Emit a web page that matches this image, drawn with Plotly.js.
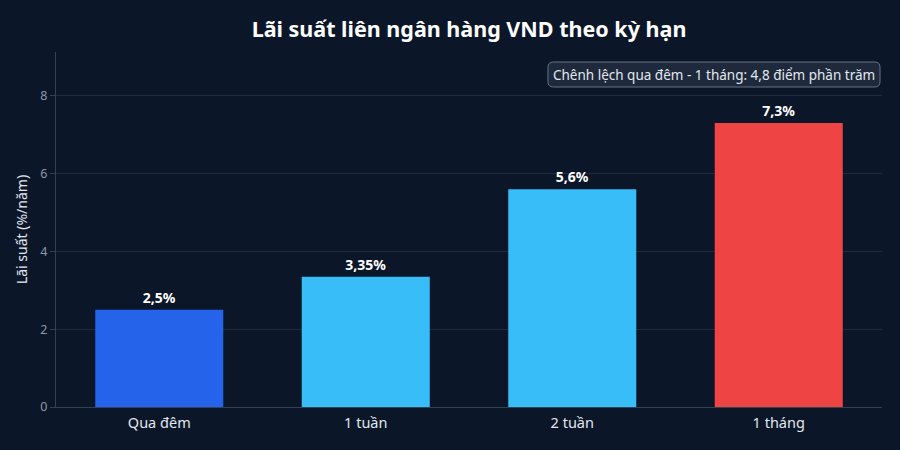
<!DOCTYPE html>
<html><head><meta charset="utf-8">
<script src="https://cdn.plot.ly/plotly-3.0.1.min.js"></script>
<style>html,body{margin:0;padding:0;background:#0b1628;}#c{width:900px;height:450px;}</style>
</head><body><div id="c"></div>
<script>
const categories = ["Qua đêm", "1 tuần", "2 tuần", "1 tháng"];
const rates = [2.5, 3.35, 5.6, 7.3];
const labels = ["2,5%", "3,35%", "5,6%", "7,3%"];
const colors = ["#2563eb", "#38bdf8", "#38bdf8", "#ef4444"];
const yTicks = [0, 2, 4, 6, 8];
const note = "Chênh lệch qua đêm - 1 tháng: 4,8 điểm phần trăm";

// rounded box (paper coords) for the note
const bx0 = 0.5956, bx1 = 0.9976, by0 = 0.9014, by1 = 0.9718, rx = 0.0065, ry = 0.015;
const boxPath = `M ${bx0+rx},${by1} L ${bx1-rx},${by1} Q ${bx1},${by1} ${bx1},${by1-ry} L ${bx1},${by0+ry} Q ${bx1},${by0} ${bx1-rx},${by0} L ${bx0+rx},${by0} Q ${bx0},${by0} ${bx0},${by0+ry} L ${bx0},${by1-ry} Q ${bx0},${by1} ${bx0+rx},${by1} Z`;

Plotly.newPlot("c", [{
  type: "bar", x: categories, y: rates, text: labels, textposition: "outside",
  textfont: {family: "Noto Sans", size: 14, color: "#ffffff", weight: "bold"},
  marker: {color: colors}, width: 0.62, cliponaxis: false, hoverinfo: "none"
}], {
  width: 900, height: 450,
  paper_bgcolor: "#0b1628", plot_bgcolor: "#0b1628",
  font: {family: "Noto Sans", color: "#cbd5e1"},
  margin: {l: 56, r: 18, t: 52, b: 43},
  title: {text: "<b>Lãi suất liên ngân hàng VND theo kỳ hạn</b>", xref: "paper", x: 0.5, y: 0.935, yanchor: "middle",
    font: {family: "Noto Sans", size: 21.5, color: "#ffffff"}},
  xaxis: {showline: true, linecolor: "#334155", ticks: "outside", ticklen: 3, tickcolor: "rgba(0,0,0,0)",
    tickfont: {size: 14.5, color: "#e2e8f0"}, showgrid: false},
  yaxis: {range: [0, 9.125], tickvals: yTicks, ticktext: yTicks.map(String), showline: true, linecolor: "#334155",
    ticks: "outside", ticklen: 5, tickcolor: "#334155", gridcolor: "#1e2b3e", zeroline: false,
    tickfont: {size: 12.5, color: "#8b98ab"},
    title: {text: "Lãi suất (%/năm)", font: {size: 14, color: "#e2e8f0"}, standoff: 9}},
  shapes: [{type: "path", xref: "paper", yref: "paper", path: boxPath, fillcolor: "#1e293b",
    line: {color: "#64748b", width: 1}, layer: "above"}],
  annotations: [{text: note, xref: "paper", yref: "paper", x: 0.7966, y: 0.9366, xanchor: "center", yanchor: "middle",
    showarrow: false, font: {size: 13.5, color: "#e2e8f0"}}],
  showlegend: false
}, {displayModeBar: false, staticPlot: true});
</script></body></html>
